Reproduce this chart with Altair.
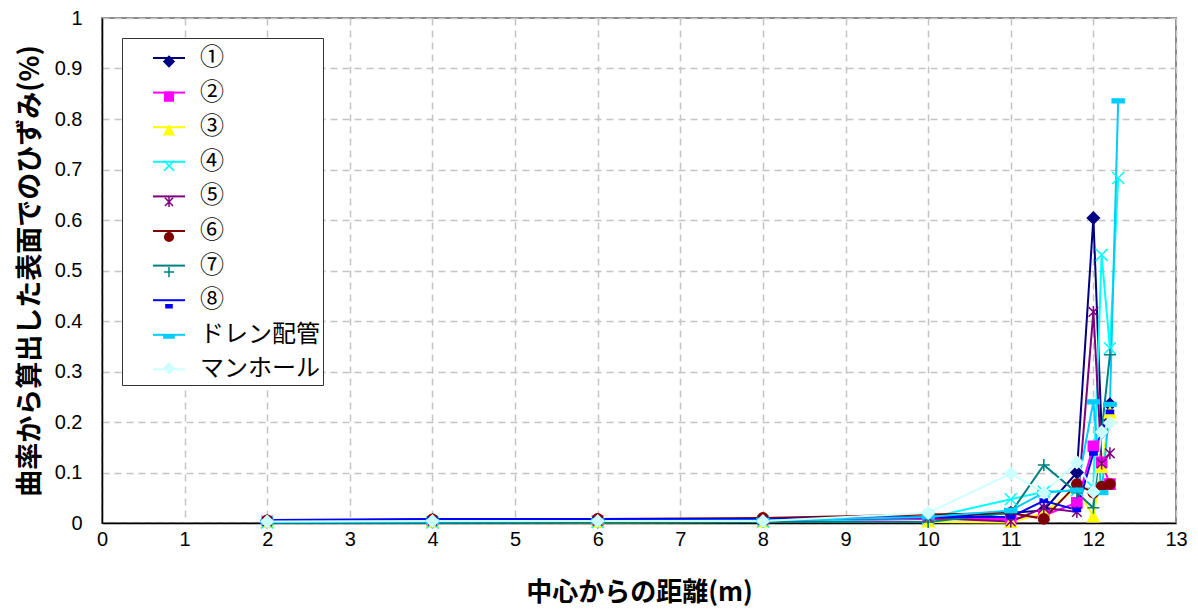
import json
import altair as alt
import pandas as pd

# ---------------- data ----------------
x_pos = [2, 4, 6, 8, 10, 11, 11.4, 11.8, 12, 12.1, 12.2, 12.3]
names = ["①", "②", "③", "④", "⑤", "⑥", "⑦", "⑧", "ドレン配管", "マンホール"]

s1 = [0.004, 0.006, 0.006, 0.007, 0.012, 0.020, 0.025, 0.100, 0.604, 0.180, 0.235, None]
s2 = [0.003, 0.003, 0.004, 0.004, 0.008, 0.008, 0.015, 0.040, 0.152, 0.120, 0.077, None]
s3 = [0.002, 0.002, 0.001, 0.002, 0.002, 0.001, 0.020, 0.070, 0.012, 0.110, 0.218, None]
s4 = [0.001, 0.001, 0.002, 0.003, 0.010, 0.047, 0.062, 0.065, 0.070, 0.531, 0.346, 0.683]
s5 = [0.003, 0.004, 0.004, 0.006, 0.010, 0.003, 0.030, 0.022, 0.418, 0.118, 0.138, None]
s6 = [0.005, 0.007, 0.008, 0.010, 0.017, 0.020, 0.008, 0.077, 0.060, 0.072, 0.077, None]
s7 = [0.001, 0.001, 0.001, 0.002, 0.002, 0.020, 0.115, 0.060, 0.030, None, 0.333, None]
s8 = [0.006, 0.008, 0.008, 0.008, 0.012, 0.012, 0.044, 0.026, 0.138, None, 0.220, None]
drain = [0.002, 0.003, 0.004, 0.005, 0.012, 0.025, 0.060, 0.065, 0.240, 0.060, 0.235, 0.836]
manhole = [0.003, 0.004, 0.004, 0.004, 0.020, 0.098, 0.060, 0.120, 0.062, 0.180, 0.198, None]

series_values = [s1, s2, s3, s4, s5, s6, s7, s8, drain, manhole]

x_ticks = list(range(0, 14))
y_ticks = [round(i * 0.1, 1) for i in range(0, 11)]

# ---------------- styles ----------------
colors = ["#000080", "#FF00FF", "#FFFF00", "#00FFFF", "#800080",
          "#800000", "#008080", "#0000FF", "#00CCFF", "#CCFFFF"]
filled = [True, True, True, False, False, True, False, True, True, True]
fills = [c if f else "transparent" for c, f in zip(colors, filled)]


def diamond(cx, s):
    return f"M{cx},{-s}L{cx + s},0L{cx},{s}L{cx - s},0Z"


def square(cx, s):
    return f"M{cx - s},{-s}H{cx + s}V{s}H{cx - s}Z"


def triangle(cx, s):
    return f"M{cx},{-s}L{cx + s},{0.85 * s}L{cx - s},{0.85 * s}Z"


def xmark(cx, s):
    return f"M{cx - s},{-s}L{cx + s},{s}M{cx - s},{s}L{cx + s},{-s}"


def star(cx, s):
    return xmark(cx, 0.8 * s) + f"M{cx},{-s}L{cx},{s}"


def circle(cx, s):
    return f"M{cx + s},0A{s},{s},0,1,1,{cx - s},0A{s},{s},0,1,1,{cx + s},0Z"


def plus(cx, s):
    return f"M{cx - s},0L{cx + s},0M{cx},{-s}L{cx},{s}"


def bar(cx, s, h):
    return f"M{cx - s},{-h}H{cx + s}V{h}H{cx - s}Z"


def marker(i, cx, k):
    return [
        lambda: diamond(cx, 1 * k),
        lambda: square(cx, 0.85 * k),
        lambda: triangle(cx, 0.95 * k),
        lambda: xmark(cx, 1 * k),
        lambda: star(cx, 1 * k),
        lambda: circle(cx, 0.85 * k),
        lambda: plus(cx, 1 * k),
        lambda: bar(cx, 0.6 * k, 0.28 * k),
        lambda: bar(cx, 1.0 * k, 0.32 * k),
        lambda: diamond(cx, 1 * k),
    ][i]()


plot_shapes = [marker(i, 0, 1) for i in range(10)]
legend_marks = [marker(i, 0, 0.85) for i in range(10)]

# ---------------- table ----------------
rows = []
for n, vals in zip(names, series_values):
    for xv, yv in zip(x_pos, vals):
        if yv is not None:
            rows.append({"x": xv, "y": yv, "series": n})
df = pd.DataFrame(rows)

jn = json.dumps(names, ensure_ascii=False)
idx = f"indexof({jn}, datum.value)"

# legend with the line samples, box and labels
line_legend = alt.Legend(
    title=None,
    orient="none",
    legendX=20,
    legendY=20,
    padding=3,
    rowPadding=5.6,
    strokeColor="#333333",
    fillColor="white",
    labelFont="Noto Sans CJK JP",
    labelFontSize=24,
    labelColor="black",
    labelOffset=14,
    symbolType="stroke",
    symbolSize=1024,
    symbolStrokeWidth=2,
    symbolOffset=27,
)

# legend with the marker samples, laid over the line samples
marker_legend = alt.Legend(
    title=None,
    orient="top-left",
    offset=20,
    padding=16.5,
    rowPadding=18.1,
    strokeColor="transparent",
    fillColor="transparent",
    labelFontSize=1,
    labelColor="transparent",
    labelOffset=0,
    symbolSize=144,
    symbolStrokeWidth=1.5,
    symbolOffset=23.5,
    symbolType=alt.ExprRef(expr=f"{json.dumps(legend_marks)}[{idx}]"),
    symbolFillColor=alt.ExprRef(expr=f"{json.dumps(fills)}[{idx}]"),
)

x_enc = alt.X(
    "x:Q",
    scale=alt.Scale(domain=[0, 13], nice=False, zero=False),
    axis=alt.Axis(
        values=x_ticks,
        format="d",
        title="中心からの距離(m)",
        titleFont="Noto Sans CJK JP",
        titleFontSize=26,
        titleFontWeight="bold",
        titleColor="black",
        titlePadding=30,
        labelFont="Liberation Sans",
        labelFontSize=20,
        labelColor="black",
        labelPadding=6,
        ticks=False,
        domainColor="black",
        domainWidth=1.5,
        grid=True,
        gridColor="#c4c4c4",
        gridDash=[7, 5],
        gridWidth=1.5,
        labelFlush=False,
    ),
)
y_enc = alt.Y(
    "y:Q",
    scale=alt.Scale(domain=[0, 1], nice=False),
    axis=alt.Axis(
        values=y_ticks,
        title="曲率から算出した表面でのひずみ(%)",
        titleFont="Noto Sans CJK JP",
        titleFontSize=27,
        titleFontWeight="bold",
        titleColor="black",
        titlePadding=10,
        labelFont="Liberation Sans",
        labelFontSize=20,
        labelColor="black",
        labelPadding=20,
        labelExpr="datum.value == 0 ? '0' : datum.value == 1 ? '1' : format(datum.value, '.1f')",
        ticks=False,
        domainColor="black",
        domainWidth=1.5,
        grid=True,
        gridColor="#c4c4c4",
        gridDash=[7, 5],
        gridWidth=1.5,
        labelFlush=False,
    ),
)

base = alt.Chart(df)

lines = base.mark_line(strokeWidth=2).encode(
    x=x_enc,
    y=y_enc,
    color=alt.Color("series:N", scale=alt.Scale(domain=names, range=colors), legend=line_legend),
    order=alt.Order("x:Q"),
)

point_layers = []
for i, n in enumerate(names):
    point_layers.append(
        base.transform_filter(alt.datum.series == n)
        .mark_point(
            shape=plot_shapes[i],
            size=144,
            strokeWidth=1.5,
            opacity=1,
            fill=fills[i],
            stroke=colors[i],
        )
        .encode(x="x:Q", y="y:Q")
    )

# legend-only layer (draws no marks itself)
legend_layer = (
    base.transform_filter("datum.y < 0")
    .mark_point(opacity=1, strokeWidth=1.5)
    .encode(
        x="x:Q",
        y="y:Q",
        stroke=alt.Stroke("series:N", scale=alt.Scale(domain=names, range=colors), legend=marker_legend),
        fill=alt.Fill("series:N", scale=alt.Scale(domain=names, range=fills), legend=None),
    )
)

chart = (
    alt.layer(lines, *point_layers, legend_layer)
    .properties(
        width=1074,
        height=505,
        background="white",
        autosize=alt.AutoSizeParams(type="none"),
        padding={"left": 94, "top": 10, "right": 14, "bottom": 86},
    )
    .configure_view(stroke="#8a8a8a", strokeWidth=2)
)

chart.save("out.html", embed_options={"renderer": "svg", "actions": False})
